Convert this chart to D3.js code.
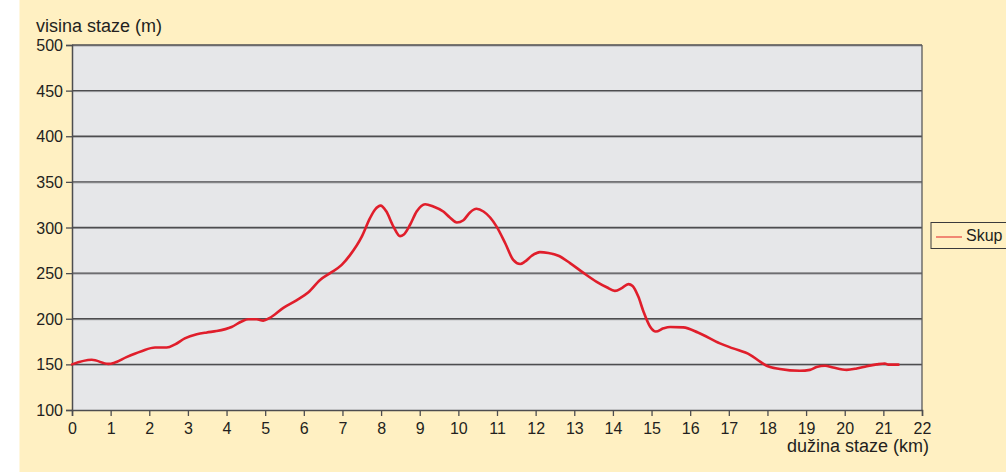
<!DOCTYPE html>
<html><head><meta charset="utf-8">
<script src="https://cdn.jsdelivr.net/npm/d3@7"></script>
<style>body{margin:0;background:#fff}svg{display:block}text{font-family:"Liberation Sans",Arial,sans-serif;fill:#231f20}</style>
</head><body>
<svg id="c" width="1006" height="472"></svg>
<script>
const distanceKm = [0,0.51,0.94,1.11,1.41,1.80,2.15,2.45,2.67,2.92,3.23,3.49,3.74,4.13,4.39,4.56,4.78,4.95,5.12,5.47,5.82,6.12,6.42,6.68,6.98,7.2,7.5,7.71,7.84,7.99,8.13,8.32,8.49,8.58,8.75,8.92,9.14,9.35,9.61,9.78,9.96,10.13,10.3,10.47,10.65,10.99,11.21,11.42,11.6,11.72,11.9,12.11,12.33,12.59,12.89,13.23,13.58,13.84,14.05,14.23,14.4,14.51,14.66,14.79,14.96,15.11,15.31,15.48,15.82,16.2,16.77,17.11,17.55,17.81,17.98,18.32,18.84,19.1,19.27,19.49,19.7,20.05,20.31,20.57,20.83,21.04,21.13,21.39];
const elevationM = [150,155,150.5,152,158,164.5,168.5,168.5,172,178.5,183,185,186.5,191,197,199.5,199.5,198,201,212,220.5,229,242.5,250,259,270,290,310,319.5,324,318,301,290.5,292,303,317.5,325.5,323,317.5,311,305.5,308,316.5,320.5,317.5,301,283,264.5,260,262.5,269,273,272,269,261,250.5,240.5,234.5,230.5,233.5,238,236,224,208,191.5,186,189.5,191,190.5,185,173,167.5,160.5,153,148.5,145,143,144,147,148.5,146.5,144,145.5,148,150,151,149.7,149.7];
const xTicks = d3.range(0, 23, 1);
const yTicks = d3.range(100, 501, 50);
const seriesName = "Skup";
const yTitle = "visina staze (m)";
const xTitle = "dužina staze (km)";

const svg = d3.select("#c");
svg.append("rect").attr("x",19.5).attr("y",0).attr("width",1006).attr("height",472).attr("fill","#fff0c2");

const L=72, R=922, T=45, B=410;
const x = d3.scaleLinear().domain([0,22]).range([L,R]);
const y = d3.scaleLinear().domain([100,500]).range([B,T]);

svg.append("rect").attr("x",L).attr("y",T).attr("width",R-L).attr("height",B-T).attr("fill","#e6e7e9");

// gridlines
const g = svg.append("g");
yTicks.filter(v=>v>100).forEach(v=>{
  g.append("line").attr("x1",L).attr("x2",R).attr("y1",y(v)+1).attr("y2",y(v)+1).attr("stroke","#a7a8ab").attr("stroke-width",1);
  g.append("line").attr("x1",L).attr("x2",R).attr("y1",y(v)).attr("y2",y(v)).attr("stroke","#4d4d4f").attr("stroke-width",1.3);
});
svg.append("line").attr("x1",R).attr("x2",R).attr("y1",T).attr("y2",B).attr("stroke","#5a5a5c").attr("stroke-width",1.3);

// axes
const yAxis = d3.axisLeft(y).tickValues(yTicks).tickSize(6).tickPadding(3);
const ya = svg.append("g").attr("transform",`translate(${L},0)`).call(yAxis);
const xAxis = d3.axisBottom(x).tickValues(xTicks).tickSize(6).tickPadding(7);
const xa = svg.append("g").attr("transform",`translate(0,${B})`).call(xAxis);
[ya,xa].forEach(a=>{
  a.select(".domain").attr("stroke","#4d4d4f").attr("stroke-width",1.5);
  a.selectAll(".tick line").attr("stroke","#4d4d4f").attr("stroke-width",1.3);
  a.selectAll("text").attr("font-size",16).attr("fill","#231f20").style("font-family","'Liberation Sans',Arial,sans-serif");
});
ya.selectAll("text").attr("dy","0.35em");

// line
const line = d3.line().x((d,i)=>x(distanceKm[i])).y(d=>y(d)).curve(d3.curveMonotoneX);
svg.append("path").attr("d",line(elevationM)).attr("fill","none").attr("stroke","#e01e2b").attr("stroke-width",2.6).attr("stroke-linejoin","round").attr("stroke-linecap","round");

// titles
svg.append("text").attr("x",36).attr("y",32).attr("font-size",18).text(yTitle);
svg.append("text").attr("x",929).attr("y",452).attr("text-anchor","end").attr("font-size",18).text(xTitle);

// legend
svg.append("rect").attr("x",931).attr("y",222.5).attr("width",90).attr("height",26).attr("fill","#fff0c2").attr("stroke","#3a3a3c").attr("stroke-width",1);
svg.append("line").attr("x1",936).attr("x2",962).attr("y1",237).attr("y2",237).attr("stroke","#e8433f").attr("stroke-width",1.2);
svg.append("text").attr("x",966).attr("y",241).attr("font-size",16).text(seriesName);
</script>
</body></html>
